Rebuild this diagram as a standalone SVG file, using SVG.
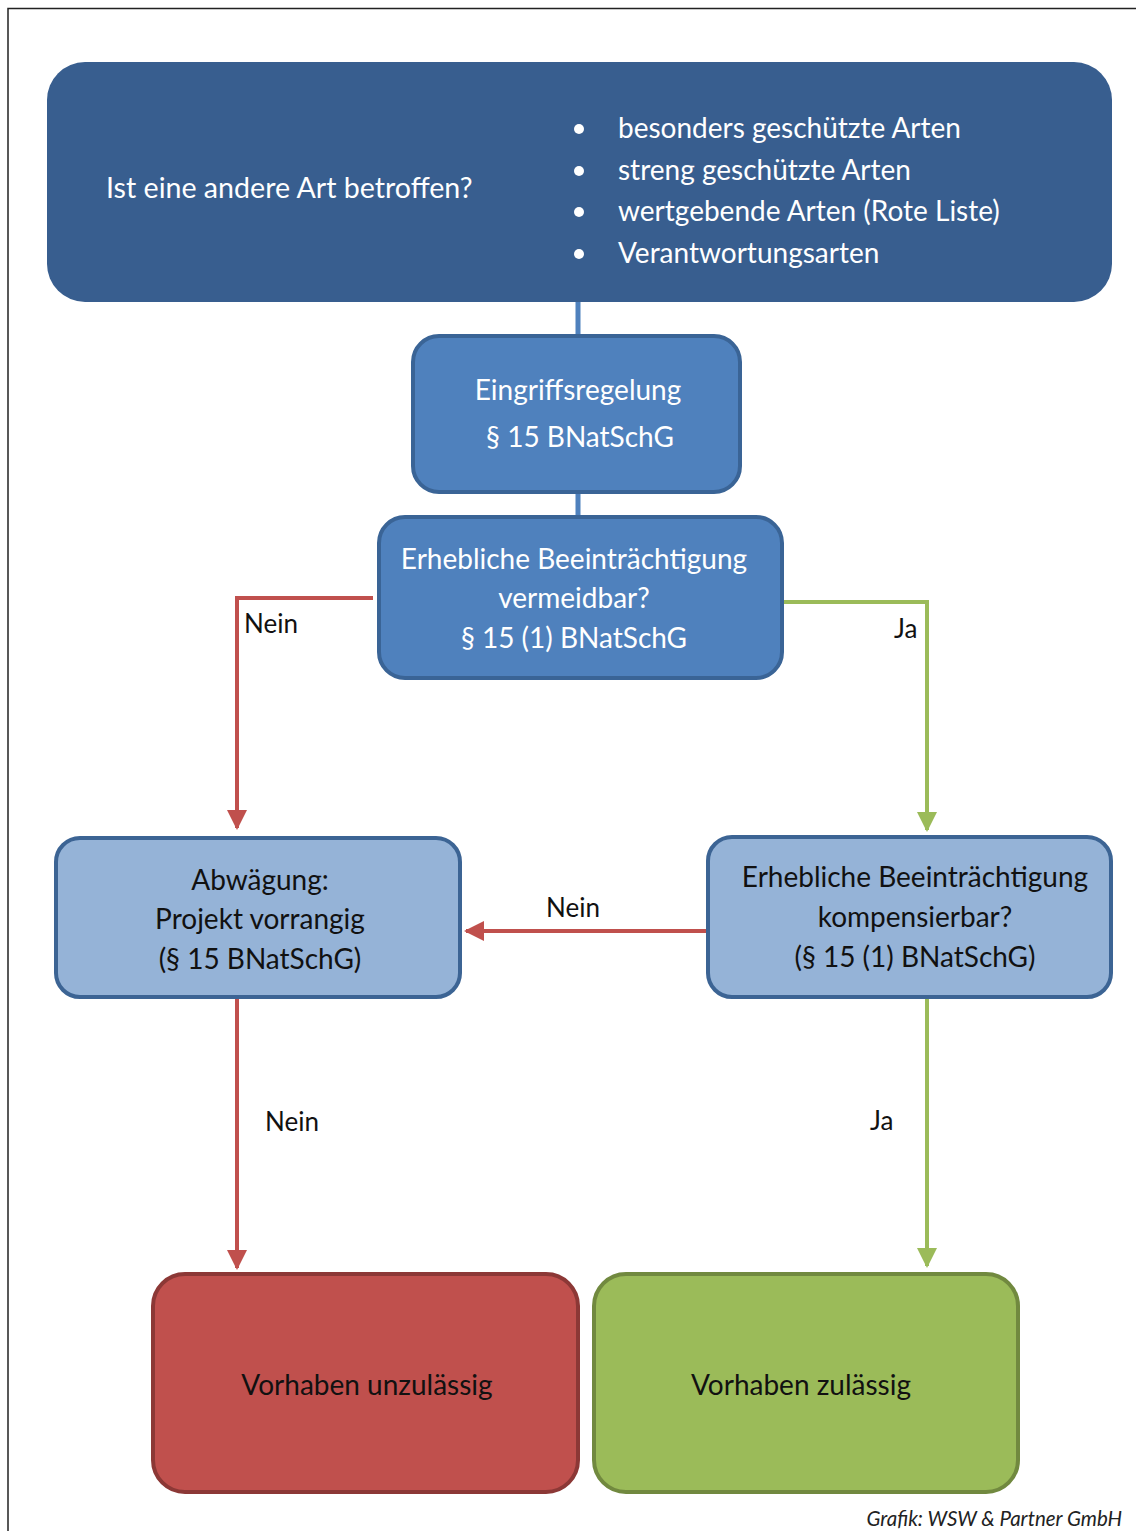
<svg xmlns="http://www.w3.org/2000/svg" width="1136" height="1531" viewBox="0 0 1136 1531">
<style>
text{font-family:Lato,"Liberation Sans",sans-serif}
.w{fill:#fff;font-size:28px}
.b{fill:#111;font-size:28px}
.c{text-anchor:middle}
.lbl{fill:#111;font-size:26px}
.red{stroke:#c0504d;stroke-width:4;fill:none}
.grn{stroke:#9bbb59;stroke-width:4;fill:none}
.mid{fill:#4f81bd;stroke:#3a6496;stroke-width:4}
.lt{fill:#95b3d7;stroke:#3c6494;stroke-width:4}
</style>
<defs>
<marker id="ar" viewBox="0 0 10 10" refX="9" refY="5" markerWidth="5" markerHeight="5" orient="auto" markerUnits="strokeWidth"><path d="M0,0L10,5L0,10z" fill="#c0504d"/></marker>
<marker id="ag" viewBox="0 0 10 10" refX="9" refY="5" markerWidth="5" markerHeight="5" orient="auto" markerUnits="strokeWidth"><path d="M0,0L10,5L0,10z" fill="#9bbb59"/></marker>
</defs>
<rect width="1136" height="1531" fill="#fff"/>
<path d="M8,1531V8.5H1136" fill="none" stroke="#222" stroke-width="1.5"/>
<g id="connectors">
<path d="M578,300V338M578,490V518" stroke="#4f81bd" stroke-width="5"/>
<path class="red" d="M373,598H237V828" marker-end="url(#ar)"/>
<path class="grn" d="M783,602H927V830" marker-end="url(#ag)"/>
<path class="red" d="M707,931H466" marker-end="url(#ar)"/>
<path class="red" d="M237,998V1268" marker-end="url(#ar)"/>
<path class="grn" d="M927,998V1266" marker-end="url(#ag)"/>
<text class="lbl" x="244" y="633">Nein</text>
<text class="lbl" x="894" y="638">Ja</text>
<text class="lbl" x="546" y="917">Nein</text>
<text class="lbl" x="265" y="1131">Nein</text>
<text class="lbl" x="870" y="1130">Ja</text>
</g>
<g id="n-top">
<rect x="47" y="62" width="1065" height="240" rx="38" fill="#385e8f"/>
<text class="w" x="106" y="198" style="font-size:28.6px">Ist eine andere Art betroffen?</text>
<g fill="#fff"><circle cx="579" cy="129" r="5"/><circle cx="579" cy="171" r="5"/><circle cx="579" cy="212" r="5"/><circle cx="579" cy="254" r="5"/></g>
<text class="w" x="618" y="138">besonders geschützte Arten</text>
<text class="w" x="618" y="180">streng geschützte Arten</text>
<text class="w" x="618" y="221">wertgebende Arten (Rote Liste)</text>
<text class="w" x="618" y="263">Verantwortungsarten</text>
</g>
<g id="n-eingriff">
<rect class="mid" x="413" y="336" width="327" height="156" rx="26"/>
<text class="w c" x="578" y="400">Eingriffsregelung</text>
<text class="w c" x="580" y="447">§ 15 BNatSchG</text>
</g>
<g id="n-vermeidbar">
<rect class="mid" x="379" y="517" width="403" height="161" rx="26"/>
<text class="w c" x="574" y="569">Erhebliche Beeinträchtigung</text>
<text class="w c" x="574" y="608">vermeidbar?</text>
<text class="w c" x="574" y="648">§ 15 (1) BNatSchG</text>
</g>
<g id="n-abwaegung">
<rect class="lt" x="56" y="838" width="404" height="159" rx="24"/>
<text class="b c" x="260" y="890">Abwägung:</text>
<text class="b c" x="260" y="929">Projekt vorrangig</text>
<text class="b c" x="260" y="969">(§ 15 BNatSchG)</text>
</g>
<g id="n-kompensierbar">
<rect class="lt" x="708" y="837" width="403" height="160" rx="24"/>
<text class="b c" x="915" y="887">Erhebliche Beeinträchtigung</text>
<text class="b c" x="915" y="927">kompensierbar?</text>
<text class="b c" x="915" y="967">(§ 15 (1) BNatSchG)</text>
</g>
<g id="n-unzulaessig">
<rect x="153" y="1274" width="425" height="218" rx="32" fill="#c0504d" stroke="#8c3836" stroke-width="4"/>
<text class="b c" x="367" y="1395">Vorhaben unzulässig</text>
</g>
<g id="n-zulaessig">
<rect x="594" y="1274" width="424" height="218" rx="32" fill="#9bbb59" stroke="#71893f" stroke-width="4"/>
<text class="b c" x="801" y="1395">Vorhaben zulässig</text>
</g>
<text x="1122" y="1526" text-anchor="end" font-style="italic" font-size="20.5" fill="#222">Grafik: WSW &amp; Partner GmbH</text>
</svg>
